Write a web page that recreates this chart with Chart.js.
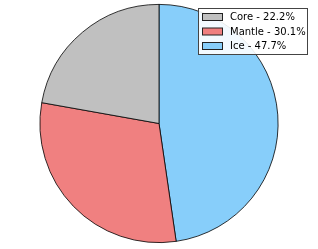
<!DOCTYPE html>
<html>
<head>
<meta charset="utf-8">
<script src="https://cdn.jsdelivr.net/npm/chart.js@4"></script>
<style>
    html, body { margin: 0; padding: 0; background: #fff; }
    #wrap { width: 318px; height: 249px; position: relative; }
</style>
</head>
<body>
<div id="wrap"><canvas id="chart" width="318" height="249"></canvas></div>
<script>
// drawn clockwise from the top, legend listed in reverse
const layers = ["Ice", "Mantle", "Core"];
const shares = [47.7, 30.1, 22.2];
const colors = ["#87cefa", "#f08080", "#c0c0c0"];

// legend drawn inside the plot, over the pie, like the original
const boxLegend = {
    id: "boxLegend",
    afterDraw(chart) {
        const ctx = chart.ctx;
        const x = 198, y = 8, w = 110, h = 47;
        ctx.save();
        ctx.fillStyle = "rgba(255,255,255,0.9)";
        ctx.fillRect(x, y, w, h);
        ctx.strokeStyle = "#444";
        ctx.lineWidth = 1;
        ctx.strokeRect(x + 0.5, y + 0.5, w - 1, h - 1);

        ctx.font = "10px 'DejaVu Sans'";
        ctx.textBaseline = "middle";
        for (let i = 0; i < layers.length; i++) {
            const k = layers.length - 1 - i;
            const rowY = 17 + i * 14.5;
            ctx.fillStyle = colors[k];
            ctx.fillRect(202, rowY - 3.5, 20, 7);
            ctx.strokeStyle = "#222";
            ctx.strokeRect(202.5, rowY - 3.5, 20, 7);
            ctx.fillStyle = "#000";
            ctx.fillText(layers[k] + " - " + shares[k].toFixed(1) + "%", 230, rowY + 0.5);
        }
        ctx.restore();
    }
};

new Chart(document.getElementById("chart"), {
    type: "pie",
    data: {
        labels: layers,
        datasets: [{
            data: shares,
            backgroundColor: colors,
            borderColor: "#000",
            borderWidth: 0.8
        }]
    },
    options: {
        responsive: false,
        animation: false,
        layout: {
            padding: { top: 4, bottom: 6, left: 0, right: 0 }
        },
        plugins: {
            legend: { display: false },
            tooltip: { enabled: false }
        }
    },
    plugins: [boxLegend]
});
</script>
</body>
</html>
